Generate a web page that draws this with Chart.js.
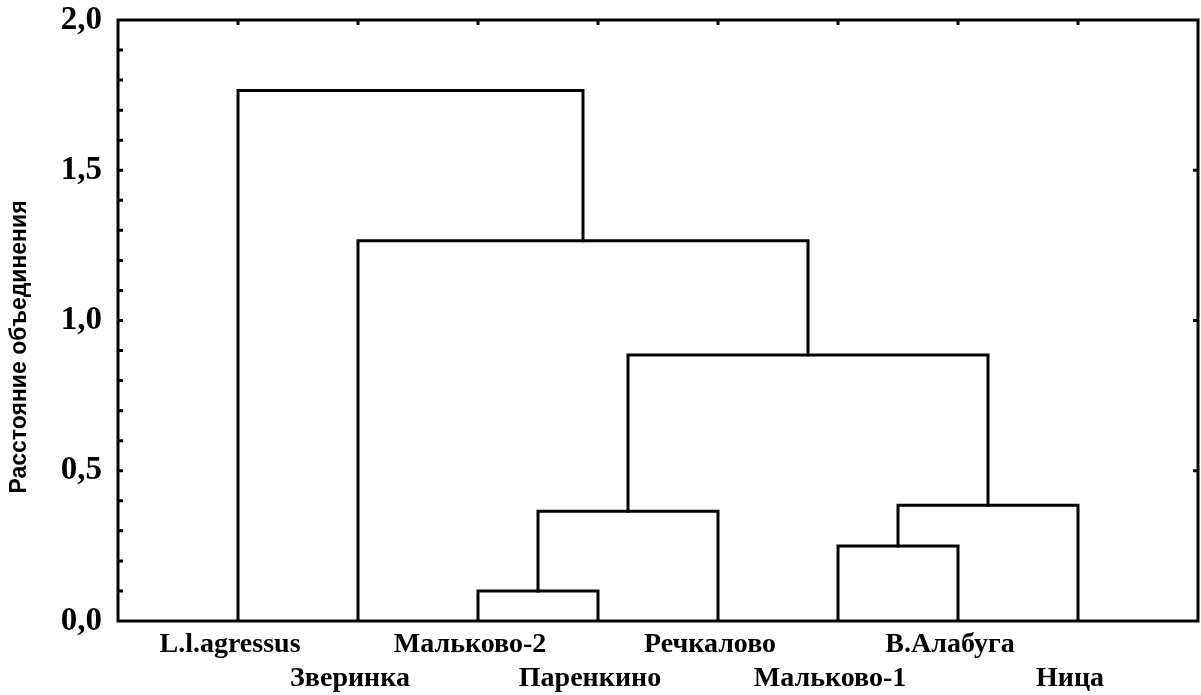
<!DOCTYPE html>
<html>
<head>
<meta charset="utf-8">
<script src="https://cdn.jsdelivr.net/npm/chart.js@4/dist/chart.umd.min.js"></script>
<style>
  html, body { margin: 0; padding: 0; background: #fff; }
  #wrap { width: 1201px; height: 695px; position: relative; }
</style>
</head>
<body>
<div id="wrap"><canvas id="c"></canvas></div>
<script>
// ---- data ----
const leafLabels = ['L.l.agressus', 'Зверинка', 'Мальково-2', 'Паренкино', 'Речкалово', 'Мальково-1', 'В.Алабуга', 'Ница'];
// merges (scipy-like): clusters 0..7 are leaves, merge k creates cluster 8+k
const mergeLeft  = [2, 5, 8, 9, 10, 1, 0];
const mergeRight = [3, 6, 4, 7, 11, 12, 13];
const mergeHeight = [0.10, 0.25, 0.365, 0.385, 0.885, 1.265, 1.765];
const yTicks = [0, 0.5, 1.0, 1.5, 2.0];
const yTitle = 'Расстояние объединения';

// ---- build dendrogram links from the merge table ----
const nLeaves = leafLabels.length;
const posX = [], posY = [];
for (let i = 0; i < nLeaves; i++) { posX.push(i + 1); posY.push(0); }
const datasets = [];
for (let k = 0; k < mergeHeight.length; k++) {
  const a = mergeLeft[k], b = mergeRight[k], h = mergeHeight[k];
  datasets.push({
    data: [
      { x: posX[a], y: posY[a] },
      { x: posX[a], y: h },
      { x: posX[b], y: h },
      { x: posX[b], y: posY[b] }
    ],
    showLine: true,
    borderColor: '#000',
    borderWidth: 3,
    pointRadius: 0,
    tension: 0,
    fill: false,
    borderJoinStyle: 'miter',
    borderCapStyle: 'square'
  });
  posX.push((posX[a] + posX[b]) / 2);
  posY.push(h);
}

const framePlugin = {
  id: 'frame',
  afterDatasetsDraw(chart) {
    const { ctx, chartArea: ca, scales } = chart;
    const xs = scales.x, ys = scales.y;
    ctx.save();
    ctx.strokeStyle = '#000';
    ctx.lineWidth = 3;
    ctx.strokeRect(ca.left, ca.top, ca.right - ca.left, ca.bottom - ca.top);
    ctx.lineWidth = 3;
    ctx.beginPath();
    // left axis: minor ticks every 0.1, inward
    for (let i = 1; i < 20; i++) {
      const y = ys.getPixelForValue(i / 10);
      ctx.moveTo(ca.left, y); ctx.lineTo(ca.left + 5, y);
    }
    // right axis: major ticks, inward
    yTicks.forEach(v => {
      if (v <= 0 || v >= 2) return;
      const y = ys.getPixelForValue(v);
      ctx.moveTo(ca.right, y); ctx.lineTo(ca.right - 5, y);
    });
    // top axis: a tick above each leaf, inward
    for (let i = 1; i <= nLeaves; i++) {
      const x = xs.getPixelForValue(i);
      ctx.moveTo(x, ca.top); ctx.lineTo(x, ca.top + 5);
    }
    ctx.stroke();
    // y title
    ctx.translate(20, 347);
    ctx.rotate(-Math.PI / 2);
    ctx.fillStyle = '#000';
    ctx.font = 'bold 23px "Liberation Sans", Arial, sans-serif';
    ctx.textAlign = 'center';
    ctx.textBaseline = 'middle';
    ctx.fillText(yTitle, 0, 0);
    ctx.restore();
  }
};

new Chart(document.getElementById('c'), {
  type: 'scatter',
  data: { datasets },
  options: {
    responsive: true,
    maintainAspectRatio: false,
    animation: false,
    layout: { padding: { top: 20, right: 3, left: 0, bottom: 0 } },
    plugins: { legend: { display: false }, tooltip: { enabled: false } },
    scales: {
      x: {
        type: 'linear',
        min: 0, max: nLeaves + 1,
        grid: { display: false },
        border: { display: false },
        afterFit(s) { s.height = 74; s.paddingLeft = 0; s.paddingRight = 0; },
        afterBuildTicks(s) {
          s.ticks = [];
          for (let i = 0; i <= nLeaves + 1; i++) s.ticks.push({ value: i });
        },
        ticks: {
          autoSkip: false,
          maxRotation: 0, minRotation: 0,
          padding: -1,
          labelOffset: -8,
          color: '#000',
          font: { family: '"Liberation Serif", "Times New Roman", serif', weight: 'bold', size: 28, lineHeight: 1.2 },
          callback(v) {
            const i = Math.round(v) - 1;
            if (i < 0 || i >= nLeaves) return '';
            return i % 2 === 0 ? [leafLabels[i], ''] : ['', leafLabels[i]];
          }
        }
      },
      y: {
        min: 0, max: 2,
        grid: { display: false },
        border: { display: false },
        afterFit(s) { s.width = 118; s.paddingTop = 0; s.paddingBottom = 0; },
        afterBuildTicks(s) { s.ticks = yTicks.map(v => ({ value: v })); },
        ticks: {
          padding: 8,
          color: '#000',
          font: { family: '"Liberation Serif", "Times New Roman", serif', weight: 'bold', size: 33 },
          callback(v) { return v.toFixed(1).replace('.', ','); }
        }
      }
    }
  },
  plugins: [framePlugin]
});
</script>
</body>
</html>
